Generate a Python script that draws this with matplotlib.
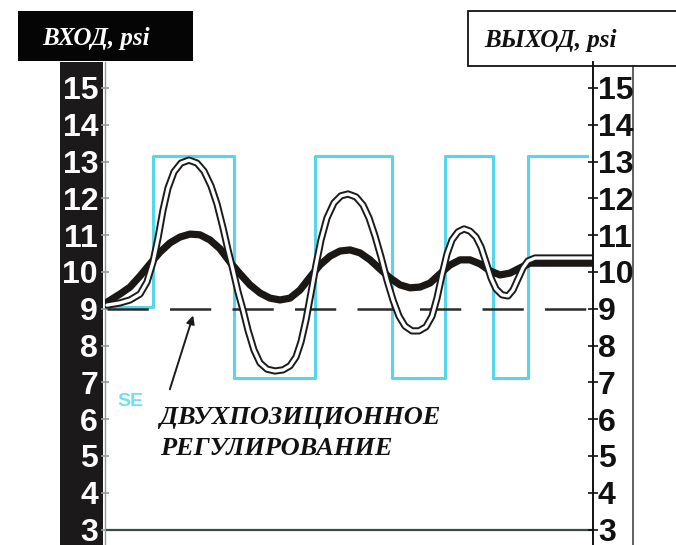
import matplotlib.pyplot as plt
from matplotlib.patches import Rectangle
from matplotlib.lines import Line2D

# time axis in arbitrary units (0..488), pressures in psi
switch_t = [2, 48, 48, 129, 129, 210, 210, 287, 287, 340, 340, 388, 388, 423, 423, 482]
switch_psi = [9.05, 9.05, 13.15, 13.15, 7.12, 7.12, 13.15, 13.15, 7.12, 7.12, 13.15, 13.15, 7.12, 7.12, 13.15, 13.15]

valve_t = [2, 15, 25, 35, 42, 48, 53, 58, 63, 69, 76, 84, 92, 99, 106, 112, 118, 123, 128, 133,
           138, 143, 149, 155, 162, 170, 178, 185, 191, 196, 201, 206, 211, 216, 222, 229, 236, 243,
           251, 258, 264, 270, 276, 282, 288, 294, 300, 307, 314, 321, 327, 332, 337, 342, 347, 353,
           359, 365, 371, 376, 381, 386, 391, 397, 403, 408, 413, 418, 423, 430, 488]
valve_psi = [9.10, 9.16, 9.24, 9.40, 9.73, 10.27, 10.92, 11.68, 12.28, 12.72, 12.96, 13.04, 12.96,
             12.74, 12.34, 11.85, 11.20, 10.60, 10.05, 9.46, 8.97, 8.42, 7.88, 7.53, 7.36, 7.31, 7.34,
             7.45, 7.69, 8.10, 8.70, 9.43, 10.19, 10.87, 11.47, 11.88, 12.07, 12.12, 12.04, 11.82,
             11.47, 10.98, 10.41, 9.78, 9.24, 8.80, 8.53, 8.40, 8.40, 8.51, 8.80, 9.29, 9.92, 10.49,
             10.87, 11.09, 11.17, 11.11, 10.95, 10.68, 10.27, 9.84, 9.54, 9.38, 9.35, 9.51, 9.81,
             10.11, 10.30, 10.38, 10.38]

proc_t = [2, 15, 25, 35, 45, 55, 65, 75, 85, 95, 105, 115, 125, 135, 145, 155, 165, 175, 185, 195,
          205, 215, 225, 235, 245, 255, 265, 275, 285, 295, 305, 315, 325, 335, 345, 355, 365, 375,
          385, 395, 405, 415, 425, 488]
proc_psi = [9.18, 9.40, 9.59, 9.89, 10.22, 10.54, 10.79, 10.95, 11.03, 11.01, 10.87, 10.63, 10.27,
            9.95, 9.65, 9.43, 9.29, 9.24, 9.29, 9.51, 9.86, 10.19, 10.43, 10.57, 10.60, 10.52, 10.33,
            10.08, 9.84, 9.65, 9.57, 9.59, 9.70, 9.95, 10.19, 10.33, 10.33, 10.22, 10.03, 9.92, 9.97,
            10.11, 10.24, 10.24]

setpoint = 9
psi_ticks = list(range(3, 16))

W, H = 676, 545
fig = plt.figure(figsize=(W / 100, H / 100), dpi=100, facecolor='white')

def fx(px):
    return px / W

def fy(py):
    return 1 - py / H

# black input bar + header
fig.patches.append(Rectangle((fx(60), fy(545)), fx(43), (545 - 62) / H, transform=fig.transFigure,
                             facecolor='#1b1919', edgecolor='none', zorder=-1))
fig.patches.append(Rectangle((fx(18), fy(61)), fx(175), 50 / H, transform=fig.transFigure,
                             facecolor='#050505', edgecolor='none', zorder=-1))
fig.text(fx(96), fy(38), 'ВХОД, psi', color='white', fontsize=18, fontweight='bold', fontstyle='italic',
         family='Liberation Serif', ha='center', va='center')

# output header box + right bar border
fig.patches.append(Rectangle((fx(468), fy(66)), fx(220), 55 / H, transform=fig.transFigure,
                             facecolor='white', edgecolor='#111111', lw=1.3, zorder=-1))
fig.text(fx(484), fy(40), 'ВЫХОД, psi', color='#111111', fontsize=18, fontweight='bold', fontstyle='italic',
         family='Liberation Serif', ha='left', va='center')
fig.lines.append(Line2D([fx(633), fx(633)], [fy(66), fy(545)], transform=fig.transFigure,
                        color='#444444', lw=1.2, zorder=-1))

ax = fig.add_axes([fx(105), 0, fx(593) - fx(105), (545 - 62) / H])
ax.set_facecolor('none')
ax.set_xlim(0, 488)
ax.set_ylim(15 - (545 - 88) / 36.8, 15 + (88 - 62) / 36.8)
ax.set_xticks([])
ax.set_yticks(psi_ticks)
ax.set_yticklabels([str(v) for v in psi_ticks], color='white', fontsize=23, fontweight='bold',
                   family='Liberation Sans')
ax.tick_params(axis='y', direction='inout', length=6, width=1.2, color='#9a9a9a', pad=2)
for s in ['top', 'bottom', 'right']:
    ax.spines[s].set_visible(False)
ax.spines['left'].set_color('#8a9aa0')
ax.spines['left'].set_linewidth(1.0)

ax2 = ax.twinx()
ax2.set_ylim(ax.get_ylim())
ax2.set_yticks(psi_ticks)
ax2.set_yticklabels([str(v) for v in psi_ticks], color='#111111', fontsize=23, fontweight='bold',
                    family='Liberation Sans')
ax2.tick_params(axis='y', direction='inout', length=7, width=1.2, color='#111111', pad=0)
for s in ['top', 'bottom', 'left']:
    ax2.spines[s].set_visible(False)
ax2.spines['right'].set_color('#111111')
ax2.spines['right'].set_linewidth(1.4)

# baseline at 3 psi
ax.plot([0, 488], [3, 3], color='#3a4a40', lw=1.6, zorder=2)

# two-position controller output
ax.plot(switch_t, switch_psi, color='#55d6ea', lw=2.2, zorder=2)
# setpoint
ax.plot([2, 488], [setpoint, setpoint], color='#2a2a2a', lw=1.8,
        linestyle=(0, (16.5, 8.5)), zorder=3)
# controlled variable
ax.plot(proc_t, proc_psi, color='#1a1714', lw=5.2, solid_capstyle='round', solid_joinstyle='round', zorder=4)
# valve / output trace (double line)
ax.plot(valve_t, valve_psi, color='#1a1a1a', lw=5.2, solid_capstyle='round', solid_joinstyle='round', zorder=5)
ax.plot(valve_t, valve_psi, color='white', lw=2.4, solid_capstyle='round', solid_joinstyle='round', zorder=6)

ax.annotate('', xy=(89, 8.89), xytext=(64, 6.74),
            arrowprops=dict(arrowstyle='-|>', color='#1a1a1a', lw=1.4, mutation_scale=12), zorder=7)

ax.text(25, 6.47, 'SE', color='#72def0', fontsize=14, fontweight='bold', family='Liberation Sans',
        ha='center', va='center')
ax.text(55, 6.05, 'ДВУХПОЗИЦИОННОЕ', color='#111111', fontsize=19, fontweight='bold',
        fontstyle='italic', family='Liberation Serif', ha='left', va='center')
ax.text(55, 5.2, 'РЕГУЛИРОВАНИЕ', color='#111111', fontsize=19, fontweight='bold',
        fontstyle='italic', family='Liberation Serif', ha='left', va='center')

plt.savefig('out.png', dpi=100, facecolor='white')
